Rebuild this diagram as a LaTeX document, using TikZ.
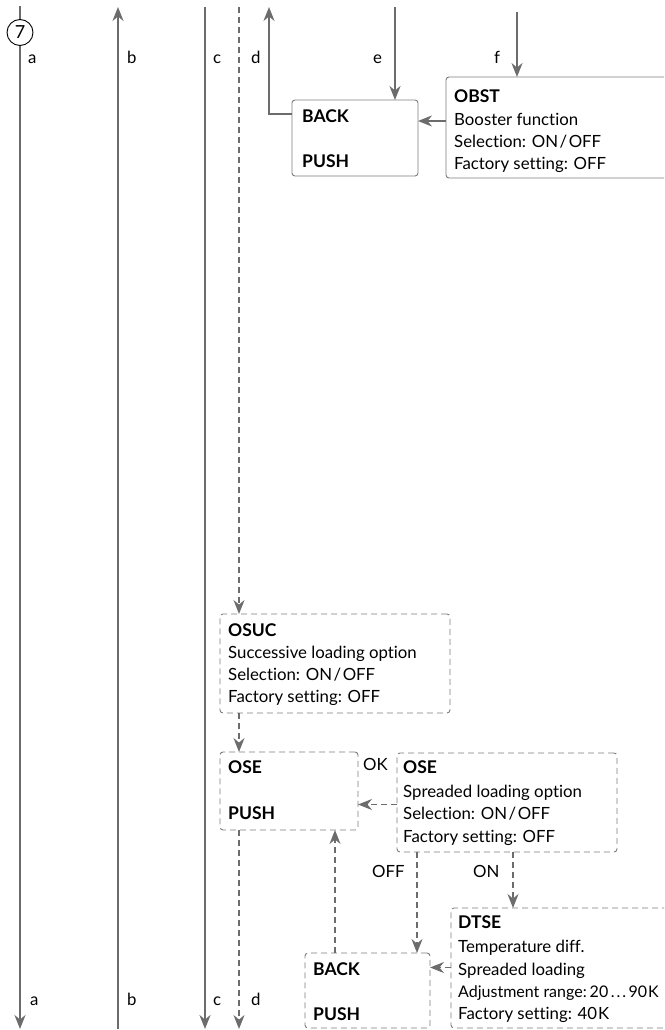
\documentclass[tikz,border=0pt]{standalone}
\usepackage{fontspec}
\setmainfont{Lato}[Ligatures=NoCommon]
\usetikzlibrary{arrows.meta}
\definecolor{lg}{RGB}{108,108,108}
\definecolor{bg}{RGB}{125,125,125}
\newcommand{\onoff}{ON\kern1.5pt/\kern1.5pt OFF}
\begin{document}
\begin{tikzpicture}[x=1pt,y=-1pt,
  flow/.style={draw=lg, line width=2pt},
  arr/.style={-{Stealth[length=14pt,width=11pt]}},
  dflow/.style={draw=lg, line width=1.4pt, dash pattern=on 6pt off 4pt},
  box/.style={draw=bg, line width=0.9pt, rounded corners=3pt, rectangle, inner sep=0pt, outer sep=0pt, anchor=north west},
  dbox/.style={box, dash pattern=on 6pt off 4pt},
  txt/.style={anchor=base west, inner sep=0pt, font=\fontsize{16.8}{18}\selectfont},
  hd/.style={anchor=base west, inner sep=0pt, font=\fontsize{17.5}{18}\selectfont\bfseries},
  circ/.style={draw=black, line width=0.9pt, circle, minimum size=26pt, inner sep=0pt, font=\fontsize{18}{18}\selectfont}
]
\useasboundingbox (0,0) rectangle (664,1030);
\clip (0,0) rectangle (664,1030);

% boxes
\node[box, minimum width=126pt, minimum height=76pt] (backA) at (292,100) {};
\node[box, minimum width=240pt, minimum height=101pt] (obst) at (446,77) {};
\node[dbox, minimum width=230pt, minimum height=99pt] (osuc) at (220,614) {};
\node[dbox, minimum width=138pt, minimum height=78pt] (oseA) at (220,752) {};
\node[dbox, minimum width=220pt, minimum height=99pt] (oseB) at (397,753) {};
\node[dbox, minimum width=125pt, minimum height=75pt] (backB) at (305,953) {};
\node[dbox, minimum width=240pt, minimum height=120pt] (dtse) at (451,908) {};

% texts
\node[hd] (tBackA) at (302,122) {BACK};
\node[hd] (tPushA) at (302,167) {PUSH};
\node[hd] (tObst) at (454,103) {OBST};
\node[txt] (tObst1) at (454,125) {Booster function};
\node[txt] (tObst2) at (454,147) {Selection: \onoff};
\node[txt] (tObst3) at (454,169) {Factory setting: OFF};
\node[hd] (tOsuc) at (228,636) {OSUC};
\node[txt] (tOsuc1) at (228,658) {Successive loading option};
\node[txt] (tOsuc2) at (228,680) {Selection: \onoff};
\node[txt] (tOsuc3) at (228,702) {Factory setting: OFF};
\node[hd] (tOseA) at (228,773) {OSE};
\node[hd] (tPushB) at (228,819) {PUSH};
\node[hd] (tOseB) at (403,773) {OSE};
\node[txt] (tOseB1) at (403,797) {Spreaded loading option};
\node[txt] (tOseB2) at (403,819) {Selection: \onoff};
\node[txt] (tOseB3) at (403,842) {Factory setting: OFF};
\node[hd] (tBackB) at (313,975) {BACK};
\node[hd] (tPushC) at (313,1020) {PUSH};
\node[hd] (tDtse) at (458,928) {DTSE};
\node[txt] (tDtse1) at (458,952) {Temperature diff.};
\node[txt] (tDtse2) at (458,975) {Spreaded loading};
\node[txt, font=\fontsize{16}{18}\selectfont] (tDtse3) at (458,997) {Adjustment range:\kern3pt20\kern2.5pt.\kern2pt.\kern2pt.\kern2.5pt90\kern1pt K};
\node[txt] (tDtse4) at (458,1019) {Factory setting: 40\kern1pt K};

% labels
\node[txt] (la) at (28,64) {a};
\node[txt] (lb) at (127,64) {b};
\node[txt] (lc) at (213,64) {c};
\node[txt] (ld) at (251,64) {d};
\node[txt] (le) at (373,64) {e};
\node[txt] (lf) at (494,64) {f};
\node[txt] (la2) at (30,1005) {a};
\node[txt] (lb2) at (127,1005) {b};
\node[txt] (lc2) at (213,1005) {c};
\node[txt] (ld2) at (251,1005) {d};
\node[txt] (lok) at (363,770) {OK};
\node[txt] (loff) at (372,877) {OFF};
\node[txt] (lon) at (473,877) {ON};

% circle 7
\node[circ] (c7) at (20,32.5) {7};

% coordinates
\coordinate (aT) at (20,6);
\coordinate (aB) at (20,1029);
\coordinate (bT) at (118,7);
\coordinate (bB) at (118,1029);
\coordinate (cT) at (205,7);
\coordinate (cB) at (205,1029);
\coordinate (dT) at (239,7);
\coordinate (dB) at (239,1029);
\coordinate (rT) at (269,7);
\coordinate (eT) at (395,7);
\coordinate (fT) at (517,12);

% solid flows
\draw[flow] (aT) -- (c7);
\draw[flow,arr] (c7) -- (aB);
\draw[flow,arr] (bB) -- (bT);
\draw[flow,arr] (cT) -- (cB);
\draw[flow,arr] ([yshift=24pt]backA.west) -| (rT);
\draw[flow,arr] (eT) -- (eT |- backA.north);
\draw[flow,arr] (fT) -- (fT |- obst.north);
\draw[flow,arr] ([yshift=6.5pt]obst.west) -- ([yshift=6.5pt]obst.west -| backA.east);

% dashed flows
\draw[dflow,arr] (dT) -- (dT |- osuc.north);
\draw[dflow,arr] (dT |- osuc.south) -- (dT |- oseA.north);
\draw[dflow,arr] (dT |- oseA.south) -- (dB);
\draw[dflow,arr] ([yshift=-2pt]oseB.west) -- ([yshift=-2pt]oseB.west -| oseA.east);
\coordinate (offX) at (417,0);
\coordinate (onX) at (513,0);
\coordinate (upX) at (335,0);
\draw[dflow,arr] (offX |- oseB.south) -- (offX |- backB.north);
\draw[dflow,arr] (onX |- oseB.south) -- (onX |- dtse.north);
\draw[dflow,arr] (upX |- backB.north) -- (upX |- oseA.south);
\draw[dflow,arr] ([yshift=0.5pt]dtse.west) -- ([yshift=0.5pt]dtse.west -| backB.east);
\end{tikzpicture}
\end{document}
